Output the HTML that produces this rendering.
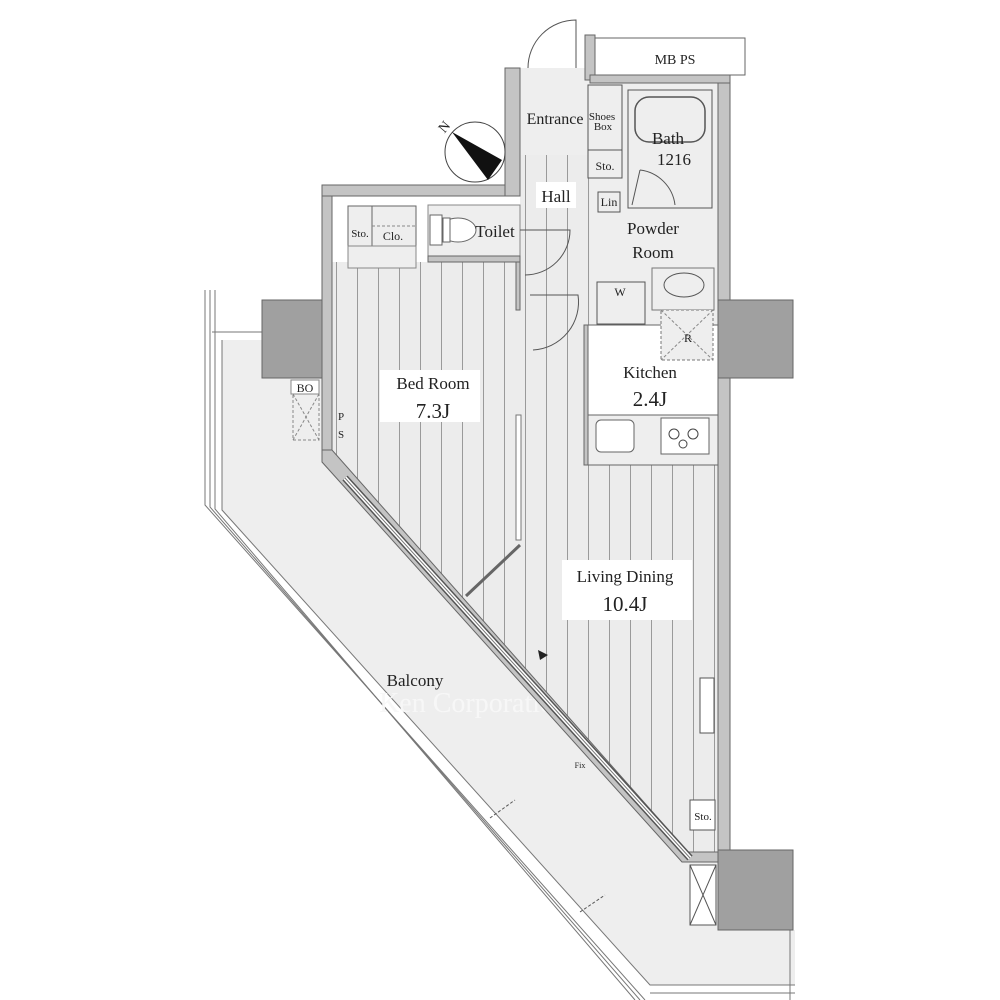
<!DOCTYPE html>
<html><head><meta charset="utf-8"><style>
html,body{margin:0;padding:0;background:#fff}
svg{display:block}
text{font-family:"Liberation Serif",serif;fill:#222}
</style></head><body>
<svg width="1000" height="1000" viewBox="0 0 1000 1000" xmlns="http://www.w3.org/2000/svg">
<defs>
<pattern id="wood" x="0" y="0" width="21" height="10" patternUnits="userSpaceOnUse">
<rect width="21" height="10" fill="#ececec"/>
<line x1="0.5" y1="0" x2="0.5" y2="10" stroke="#9a9a9a" stroke-width="1"/>
</pattern>
</defs>
<rect width="1000" height="1000" fill="#fff"/>

<!-- balcony -->
<polygon points="222,340 330,340 330,458 685,860 720,860 720,930 795,930 795,985 650,985 222,510" fill="#eeeeee"/>
<g fill="none" stroke="#777" stroke-width="1">
<polyline points="205,290 205,505 645,1000"/>
<polyline points="210,290 210,507 640,1000"/>
<polyline points="215,290 215,509 635,1000"/>
<polyline points="222,340 222,510 650,985 795,985"/>
<line x1="650" y1="993" x2="795" y2="993"/>
<line x1="212" y1="332" x2="262" y2="332"/>
<line x1="790" y1="930" x2="790" y2="1000"/>
</g>
<text x="415" y="686" font-size="17" text-anchor="middle">Balcony</text>
<text x="580" y="768" font-size="8" text-anchor="middle">Fix</text>
<text x="500" y="712" font-size="28" style="fill:#f7f7f7" text-anchor="middle">Ken Corporation Ltd.</text>
<rect x="291" y="380" width="28" height="14" fill="#fff" stroke="#888"/>
<text x="305" y="392" font-size="12" text-anchor="middle">BO</text>
<rect x="293" y="394" width="26" height="46" fill="none" stroke="#888" stroke-dasharray="3,2"/>
<line x1="293" y1="394" x2="319" y2="440" stroke="#888" stroke-dasharray="3,2"/>
<line x1="319" y1="394" x2="293" y2="440" stroke="#888" stroke-dasharray="3,2"/>
<g stroke="#555" stroke-dasharray="3,2"><line x1="490" y1="818" x2="515" y2="800"/><line x1="580" y1="912" x2="605" y2="895"/></g>

<!-- floors -->
<polygon points="332,262 520,262 520,545 462,600 332,455" fill="url(#wood)"/>
<polygon points="520,155 590,155 590,465 718,465 718,855 690,855 462,600 520,545" fill="url(#wood)"/>
<line x1="520" y1="545" x2="466" y2="596" stroke="#666" stroke-width="3"/>
<rect x="516" y="415" width="5" height="125" fill="#fff" stroke="#777"/>
<!-- Entrance -->
<rect x="520" y="68" width="70" height="87" fill="#eee"/>
<!-- toilet / closets -->
<rect x="332" y="196" width="188" height="66" fill="#fff"/>
<rect x="428" y="205" width="92" height="55" fill="#eee" stroke="#888"/>
<rect x="348" y="206" width="24" height="40" fill="#eee" stroke="#666"/>
<rect x="372" y="206" width="44" height="40" fill="#eee" stroke="#666"/>
<line x1="372" y1="226" x2="416" y2="226" stroke="#888" stroke-dasharray="3,2"/>
<rect x="348" y="246" width="68" height="22" fill="#eee" stroke="#888"/>
<text x="360" y="237" font-size="11" text-anchor="middle">Sto.</text>
<text x="393" y="240" font-size="12" text-anchor="middle">Clo.</text>
<ellipse cx="458" cy="230" rx="18" ry="12" fill="#fff" stroke="#666"/>
<rect x="430" y="215" width="12" height="30" fill="#fff" stroke="#666"/>
<rect x="443" y="218" width="7" height="24" fill="#fff" stroke="#666"/>
<text x="495" y="237" font-size="17" text-anchor="middle">Toilet</text>
<!-- Powder / bath -->
<rect x="590" y="80" width="128" height="250" fill="#eee"/>
<rect x="628" y="90" width="84" height="118" fill="#eee" stroke="#555"/>
<rect x="635" y="97" width="70" height="45" rx="14" fill="#eee" stroke="#555" stroke-width="1.5"/>
<rect x="588" y="85" width="34" height="65" fill="#eee" stroke="#555"/>
<rect x="588" y="150" width="34" height="28" fill="#eee" stroke="#555"/>
<rect x="598" y="192" width="22" height="20" fill="#eee" stroke="#555"/>
<text x="602" y="120" font-size="11" text-anchor="middle">Shoes</text>
<text x="603" y="130" font-size="11" text-anchor="middle">Box</text>
<text x="605" y="170" font-size="12" text-anchor="middle">Sto.</text>
<text x="609" y="206" font-size="12" text-anchor="middle">Lin</text>
<text x="555" y="124" font-size="16" text-anchor="middle">Entrance</text>
<text x="668" y="144" font-size="17" text-anchor="middle">Bath</text>
<text x="674" y="165" font-size="17" text-anchor="middle">1216</text>
<text x="653" y="234" font-size="17" text-anchor="middle">Powder</text>
<text x="653" y="258" font-size="17" text-anchor="middle">Room</text>
<rect x="597" y="282" width="48" height="42" fill="#eee" stroke="#555"/>
<text x="620" y="296" font-size="12" text-anchor="middle">W</text>
<rect x="652" y="268" width="62" height="42" fill="#eee" stroke="#777"/>
<ellipse cx="684" cy="285" rx="20" ry="12" fill="none" stroke="#555"/>
<!-- Kitchen -->
<rect x="588" y="325" width="130" height="140" fill="#fff" stroke="#666"/>
<rect x="661" y="310" width="52" height="50" fill="#eee" stroke="#777" stroke-dasharray="3,2"/>
<line x1="661" y1="310" x2="713" y2="360" stroke="#888" stroke-dasharray="3,2"/><line x1="713" y1="310" x2="661" y2="360" stroke="#888" stroke-dasharray="3,2"/>
<text x="688" y="342" font-size="12" text-anchor="middle">R</text>
<rect x="588" y="415" width="130" height="50" fill="#eee" stroke="#666"/>
<rect x="596" y="420" width="38" height="32" rx="5" fill="#fff" stroke="#666"/>
<rect x="661" y="418" width="48" height="36" fill="#fff" stroke="#666"/>
<circle cx="674" cy="434" r="5" fill="none" stroke="#444"/><circle cx="693" cy="434" r="5" fill="none" stroke="#444"/><circle cx="683" cy="444" r="4" fill="none" stroke="#444"/>
<!-- labels -->
<rect x="380" y="370" width="100" height="52" fill="#fff"/>
<text x="433" y="389" font-size="17" text-anchor="middle">Bed Room</text>
<text x="433" y="418" font-size="21" text-anchor="middle">7.3J</text>
<text x="650" y="378" font-size="17" text-anchor="middle">Kitchen</text>
<text x="650" y="406" font-size="21" text-anchor="middle">2.4J</text>
<rect x="562" y="560" width="130" height="60" fill="#fff"/>
<text x="625" y="582" font-size="17" text-anchor="middle">Living Dining</text>
<text x="625" y="611" font-size="21" text-anchor="middle">10.4J</text>
<rect x="536" y="182" width="40" height="26" fill="#fff"/>
<text x="556" y="202" font-size="17" text-anchor="middle">Hall</text>

<!-- walls -->
<g fill="#c4c4c4" stroke="#666" stroke-width="1">
<rect x="322" y="185" width="10" height="270"/>
<rect x="322" y="185" width="198" height="11"/>
<rect x="505" y="68" width="15" height="128"/>
<rect x="718" y="80" width="12" height="775"/>
<rect x="585" y="35" width="10" height="45"/>
<rect x="590" y="75" width="140" height="8"/>
<rect x="428" y="256" width="92" height="6"/>
<rect x="584" y="325" width="4" height="140"/>
<rect x="516" y="262" width="4" height="48"/>
<polygon points="322,450 332,450 688,852 720,852 720,862 682,862 322,462"/>
</g>
<rect x="595" y="38" width="150" height="37" fill="#fff" stroke="#666"/>
<text x="675" y="64" font-size="14" text-anchor="middle">MB  PS</text>
<!-- window band -->
<line x1="345" y1="478" x2="690" y2="858" stroke="#555" stroke-width="7"/>
<line x1="345" y1="478" x2="690" y2="858" stroke="#fff" stroke-width="4"/>
<line x1="345" y1="478" x2="690" y2="858" stroke="#777" stroke-width="1"/>
<!-- columns -->
<g fill="#a0a0a0" stroke="#666">
<rect x="262" y="300" width="60" height="78"/>
<rect x="718" y="300" width="75" height="78"/>
<rect x="718" y="850" width="75" height="80"/>
</g>
<rect x="690" y="865" width="26" height="60" fill="#fff" stroke="#555"/>
<line x1="690" y1="865" x2="716" y2="925" stroke="#555"/><line x1="716" y1="865" x2="690" y2="925" stroke="#555"/>
<rect x="700" y="678" width="14" height="55" fill="#fff" stroke="#555"/>
<rect x="690" y="800" width="25" height="30" fill="#fff" stroke="#555"/>
<text x="703" y="820" font-size="11" text-anchor="middle">Sto.</text>
<text x="338" y="420" font-size="11">P</text><text x="338" y="438" font-size="11">S</text>
<polygon points="538,650 548,655 540,660" fill="#222"/>
<!-- doors -->
<g fill="none" stroke="#555">
<path d="M528,68 A48,48 0 0 1 576,20 L576,68"/>
<path d="M520,230 L570,230 A45,45 0 0 1 525,275"/>
<path d="M530,295 L578,295 A48,48 0 0 1 533,350"/>
<path d="M640,170 L632,205 M640,170 A40,40 0 0 1 675,205"/>
</g>
<!-- compass -->
<circle cx="475" cy="152" r="30" fill="#fff" stroke="#444"/>
<polygon points="452,132 502,160 488,180" fill="#111"/>
<text x="440" y="132" font-size="14" transform="rotate(-50 444 128)">N</text>
</svg>
</body></html>
